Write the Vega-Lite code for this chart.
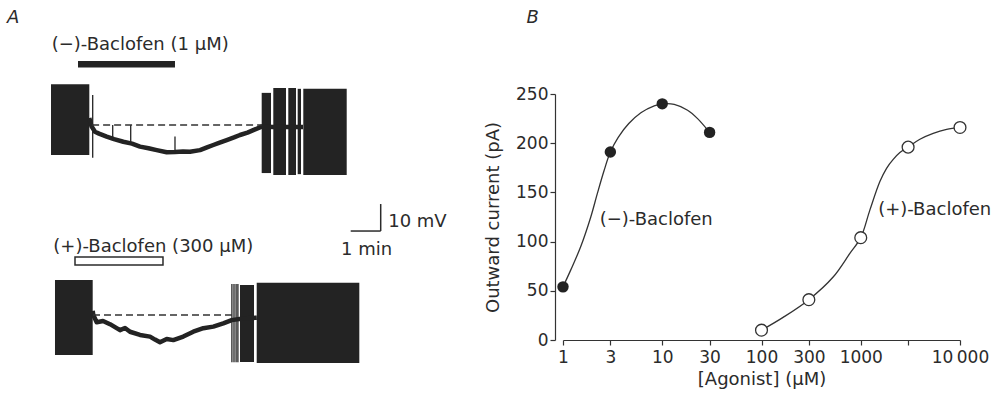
{
  "$schema": "https://vega.github.io/schema/vega-lite/v6.json",
  "width": 397,
  "height": 246,
  "autosize": {"type": "none"},
  "padding": {"left": 563, "top": 94, "right": 35, "bottom": 58},
  "background": "white",
  "config": {
    "view": {"stroke": null},
    "font": "DejaVu Sans",
    "text": {"font": "DejaVu Sans", "color": "#2b2b2b"},
    "axis": {"labelFont": "DejaVu Sans", "titleFont": "DejaVu Sans", "grid": false}
  },
  "datasets": {
    "dose": [
      {"agonist": "(−)-Baclofen", "conc": 1, "current": 54},
      {"agonist": "(−)-Baclofen", "conc": 3, "current": 191},
      {"agonist": "(−)-Baclofen", "conc": 10, "current": 240},
      {"agonist": "(−)-Baclofen", "conc": 30, "current": 211},
      {"agonist": "(+)-Baclofen", "conc": 100, "current": 10},
      {"agonist": "(+)-Baclofen", "conc": 300, "current": 41},
      {"agonist": "(+)-Baclofen", "conc": 1000, "current": 104},
      {"agonist": "(+)-Baclofen", "conc": 3000, "current": 196},
      {"agonist": "(+)-Baclofen", "conc": 10000, "current": 216}
    ],
    "fit": [
      {"agonist": "(−)-Baclofen", "conc": 1, "current": 54},
      {"agonist": "(−)-Baclofen", "conc": 1.195, "current": 71},
      {"agonist": "(−)-Baclofen", "conc": 1.51, "current": 95},
      {"agonist": "(−)-Baclofen", "conc": 1.905, "current": 125},
      {"agonist": "(−)-Baclofen", "conc": 2.22, "current": 149},
      {"agonist": "(−)-Baclofen", "conc": 2.59, "current": 172},
      {"agonist": "(−)-Baclofen", "conc": 3, "current": 191},
      {"agonist": "(−)-Baclofen", "conc": 3.6, "current": 206},
      {"agonist": "(−)-Baclofen", "conc": 4.6, "current": 220},
      {"agonist": "(−)-Baclofen", "conc": 6.09, "current": 231},
      {"agonist": "(−)-Baclofen", "conc": 8.3, "current": 238},
      {"agonist": "(−)-Baclofen", "conc": 10, "current": 240},
      {"agonist": "(−)-Baclofen", "conc": 13.2, "current": 239.5},
      {"agonist": "(−)-Baclofen", "conc": 18, "current": 233.5},
      {"agonist": "(−)-Baclofen", "conc": 22.7, "current": 225},
      {"agonist": "(−)-Baclofen", "conc": 30, "current": 211},
      {"agonist": "(+)-Baclofen", "conc": 100, "current": 10},
      {"agonist": "(+)-Baclofen", "conc": 165, "current": 23},
      {"agonist": "(+)-Baclofen", "conc": 300, "current": 41},
      {"agonist": "(+)-Baclofen", "conc": 527, "current": 64},
      {"agonist": "(+)-Baclofen", "conc": 777, "current": 88},
      {"agonist": "(+)-Baclofen", "conc": 1000, "current": 104},
      {"agonist": "(+)-Baclofen", "conc": 1235, "current": 132},
      {"agonist": "(+)-Baclofen", "conc": 1559, "current": 161},
      {"agonist": "(+)-Baclofen", "conc": 1820, "current": 174.5},
      {"agonist": "(+)-Baclofen", "conc": 2124, "current": 183.5},
      {"agonist": "(+)-Baclofen", "conc": 2478, "current": 190.5},
      {"agonist": "(+)-Baclofen", "conc": 3000, "current": 196},
      {"agonist": "(+)-Baclofen", "conc": 3944, "current": 204},
      {"agonist": "(+)-Baclofen", "conc": 5370, "current": 210},
      {"agonist": "(+)-Baclofen", "conc": 7330, "current": 214},
      {"agonist": "(+)-Baclofen", "conc": 10000, "current": 216}
    ],
    "bText": [
      {"label": "(−)-Baclofen", "conc": 2.34, "current": 122},
      {"label": "(+)-Baclofen", "conc": 1497, "current": 132}
    ],
    "bPanel": [{"label": "B", "conc": 0.43, "current": 327}],
    "a1Bursts": [
      {"t0": 0, "t1": 1.277, "vTop": -44.9, "vBot": -71.1},
      {"t0": 7.023, "t1": 7.333, "vTop": -48.1, "vBot": -77.8},
      {"t0": 7.41, "t1": 7.833, "vTop": -46.3, "vBot": -78.5},
      {"t0": 7.91, "t1": 8.167, "vTop": -46.3, "vBot": -78.5},
      {"t0": 8.223, "t1": 8.333, "vTop": -46.6, "vBot": -78.2},
      {"t0": 8.41, "t1": 9.857, "vTop": -46.6, "vBot": -78.5}
    ],
    "a1Trace": [
      {"t": 1.277, "v": -57.4},
      {"t": 1.35, "v": -60.5},
      {"t": 1.467, "v": -62.5},
      {"t": 1.6, "v": -63.2},
      {"t": 1.857, "v": -64.3},
      {"t": 2.1, "v": -65.2},
      {"t": 2.41, "v": -66.2},
      {"t": 2.7, "v": -66.9},
      {"t": 2.967, "v": -68.0},
      {"t": 3.25, "v": -68.6},
      {"t": 3.523, "v": -69.3},
      {"t": 3.857, "v": -70.1},
      {"t": 4.133, "v": -70.0},
      {"t": 4.4, "v": -69.8},
      {"t": 4.633, "v": -69.9},
      {"t": 4.967, "v": -69.3},
      {"t": 5.2, "v": -68.3},
      {"t": 5.41, "v": -67.4},
      {"t": 5.6, "v": -66.6},
      {"t": 5.857, "v": -65.6},
      {"t": 6.1, "v": -64.6},
      {"t": 6.3, "v": -63.7},
      {"t": 6.55, "v": -62.8},
      {"t": 6.743, "v": -61.9},
      {"t": 7.023, "v": -60.6},
      {"t": 7.4, "v": -60.7},
      {"t": 7.9, "v": -60.7},
      {"t": 8.4, "v": -60.7}
    ],
    "a1Spikes": [
      {"t": 1.39, "vTop": -48.9, "vBot": -72.1},
      {"t": 2.057, "vTop": -60, "vBot": -64.8},
      {"t": 2.657, "vTop": -60, "vBot": -66.5},
      {"t": 4.133, "vTop": -64.3, "vBot": -70.5}
    ],
    "a1Drug": [{"t0": 0.9, "t1": 4.133, "vTop": -36.3, "vBot": -38.7}],
    "a1Base": [{"t0": 1.37, "t1": 7.03, "v": -60}],
    "a1Text": [{"label": "(−)-Baclofen (1 μM)", "t": 0.023, "v": -30.4}],
    "a1Panel": [{"label": "A", "t": -1.467, "v": -20.4}],
    "a2Bursts": [
      {"t0": 0.133, "t1": 1.39, "vTop": -47.0, "vBot": -74.8},
      {"t0": 6.3, "t1": 6.767, "vTop": -48.9, "vBot": -77.4},
      {"t0": 6.857, "t1": 10.277, "vTop": -48.1, "vBot": -77.8}
    ],
    "a2Spikes": [
      {"t": 6.03, "vTop": -48.5, "vBot": -77.5},
      {"t": 6.1, "vTop": -48.5, "vBot": -77.5},
      {"t": 6.17, "vTop": -48.5, "vBot": -77.5},
      {"t": 6.23, "vTop": -48.5, "vBot": -77.5}
    ],
    "a2Trace": [
      {"t": 1.39, "v": -58.5},
      {"t": 1.41, "v": -60},
      {"t": 1.523, "v": -62.7},
      {"t": 1.733, "v": -62.2},
      {"t": 1.967, "v": -63.4},
      {"t": 2.3, "v": -65.6},
      {"t": 2.467, "v": -64.8},
      {"t": 2.633, "v": -66.2},
      {"t": 2.967, "v": -67.4},
      {"t": 3.3, "v": -68.0},
      {"t": 3.467, "v": -69.1},
      {"t": 3.633, "v": -70.1},
      {"t": 3.857, "v": -68.9},
      {"t": 4.077, "v": -69.3},
      {"t": 4.41, "v": -68.0},
      {"t": 4.743, "v": -66.2},
      {"t": 5.077, "v": -64.9},
      {"t": 5.41, "v": -64.3},
      {"t": 5.743, "v": -63.1},
      {"t": 6.023, "v": -61.9},
      {"t": 6.4, "v": -61.3},
      {"t": 6.86, "v": -61.0}
    ],
    "a2Drug": [{"t0": 0.8, "t1": 3.733, "vTop": -38.5, "vBot": -41.5}],
    "a2Base": [{"t0": 1.4, "t1": 6.07, "v": -60}],
    "a2Scale": [
      {"t0": 9.99, "t1": 10.99, "v0": -28.9, "v1": -28.9},
      {"t0": 10.99, "t1": 10.99, "v0": -28.9, "v1": -18.9}
    ],
    "a2TextLeft": [
      {"label": "(+)-Baclofen (300 μM)", "t": 0.077, "v": -34.8},
      {"label": "10 mV", "t": 11.24, "v": -25.4}
    ],
    "a2TextCenter": [{"label": "1 min", "t": 10.52, "v": -35.9}]
  },
  "layer": [
    {
      "layer": [
        {
          "data": {"name": "fit"},
          "mark": {"type": "line", "interpolate": "catmull-rom", "color": "#333333", "strokeWidth": 1.3},
          "encoding": {
            "x": {
              "field": "conc", "type": "quantitative",
              "scale": {"type": "log", "domain": [1, 10000], "nice": false},
              "axis": {
                "orient": "bottom",
                "title": "[Agonist] (μM)",
                "values": [1, 3, 10, 30, 100, 300, 1000, 3000, 10000],
                "labelExpr": "datum.value == 3000 ? '' : (datum.value == 10000 ? '10\u2009000' : format(datum.value, 'd'))",
                "labelFontSize": 17, "titleFontSize": 18, "titleFontWeight": "normal",
                "labelColor": "#2b2b2b", "titleColor": "#2b2b2b",
                "domainColor": "#333333", "tickColor": "#333333",
                "domainWidth": 1.2, "tickWidth": 1.2, "tickSize": 5,
                "labelPadding": 4, "titlePadding": 5,
                "labelFlush": false, "labelOverlap": false
              }
            },
            "y": {
              "field": "current", "type": "quantitative",
              "scale": {"domain": [0, 250], "nice": false},
              "axis": {
                "orient": "left",
                "offset": 8,
                "title": "Outward current (pA)",
                "values": [0, 50, 100, 150, 200, 250],
                "labelFontSize": 17, "titleFontSize": 18, "titleFontWeight": "normal",
                "labelColor": "#2b2b2b", "titleColor": "#2b2b2b",
                "domainColor": "#333333", "tickColor": "#333333",
                "domainWidth": 1.2, "tickWidth": 1.2, "tickSize": 5,
                "labelPadding": 2, "titlePadding": 13
              }
            },
            "detail": {"field": "agonist"}
          }
        },
        {
          "data": {"name": "dose"},
          "transform": [{"filter": "datum.agonist == '(−)-Baclofen'"}],
          "mark": {"type": "point", "shape": "circle", "filled": true, "color": "#222222", "size": 130, "opacity": 1},
          "encoding": {
            "x": {"field": "conc", "type": "quantitative"},
            "y": {"field": "current", "type": "quantitative"}
          }
        },
        {
          "data": {"name": "dose"},
          "transform": [{"filter": "datum.agonist == '(+)-Baclofen'"}],
          "mark": {"type": "point", "shape": "circle", "filled": false, "fill": "white", "stroke": "#333333", "strokeWidth": 1.3, "size": 140, "opacity": 1, "fillOpacity": 1},
          "encoding": {
            "x": {"field": "conc", "type": "quantitative"},
            "y": {"field": "current", "type": "quantitative"}
          }
        },
        {
          "data": {"name": "bText"},
          "mark": {"type": "text", "align": "left", "baseline": "middle", "fontSize": 18},
          "encoding": {
            "x": {"field": "conc", "type": "quantitative"},
            "y": {"field": "current", "type": "quantitative"},
            "text": {"field": "label"}
          }
        },
        {
          "data": {"name": "bPanel"},
          "mark": {"type": "text", "align": "left", "baseline": "middle", "fontSize": 18, "fontStyle": "italic"},
          "encoding": {
            "x": {"field": "conc", "type": "quantitative"},
            "y": {"field": "current", "type": "quantitative"},
            "text": {"field": "label"}
          }
        }
      ]
    },
    {
      "layer": [
        {
          "data": {"name": "a1Bursts"},
          "mark": {"type": "rect", "color": "#232323"},
          "encoding": {
            "x": {"field": "t0", "type": "quantitative", "scale": {"domain": [0, 10], "range": [-512, -212], "nice": false, "zero": false}, "axis": null},
            "x2": {"field": "t1"},
            "y": {"field": "vTop", "type": "quantitative", "scale": {"domain": [-90, -30], "range": [112, -50], "nice": false, "zero": false}, "axis": null},
            "y2": {"field": "vBot"}
          }
        },
        {
          "data": {"name": "a1Trace"},
          "mark": {"type": "line", "color": "#232323", "strokeWidth": 4.5, "strokeJoin": "round"},
          "encoding": {
            "x": {"field": "t", "type": "quantitative"},
            "y": {"field": "v", "type": "quantitative"}
          }
        },
        {
          "data": {"name": "a1Spikes"},
          "mark": {"type": "rule", "color": "#232323", "strokeWidth": 1.3},
          "encoding": {
            "x": {"field": "t", "type": "quantitative"},
            "y": {"field": "vTop", "type": "quantitative"},
            "y2": {"field": "vBot"}
          }
        },
        {
          "data": {"name": "a1Base"},
          "mark": {"type": "rule", "color": "#333333", "strokeWidth": 1.3, "strokeDash": [7, 4]},
          "encoding": {
            "x": {"field": "t0", "type": "quantitative"},
            "x2": {"field": "t1"},
            "y": {"field": "v", "type": "quantitative"}
          }
        },
        {
          "data": {"name": "a1Drug"},
          "mark": {"type": "rect", "color": "#232323"},
          "encoding": {
            "x": {"field": "t0", "type": "quantitative"},
            "x2": {"field": "t1"},
            "y": {"field": "vTop", "type": "quantitative"},
            "y2": {"field": "vBot"}
          }
        },
        {
          "data": {"name": "a1Text"},
          "mark": {"type": "text", "align": "left", "baseline": "middle", "fontSize": 18},
          "encoding": {
            "x": {"field": "t", "type": "quantitative"},
            "y": {"field": "v", "type": "quantitative"},
            "text": {"field": "label"}
          }
        },
        {
          "data": {"name": "a1Panel"},
          "mark": {"type": "text", "align": "left", "baseline": "middle", "fontSize": 18, "fontStyle": "italic"},
          "encoding": {
            "x": {"field": "t", "type": "quantitative"},
            "y": {"field": "v", "type": "quantitative"},
            "text": {"field": "label"}
          }
        }
      ]
    },
    {
      "layer": [
        {
          "data": {"name": "a2Bursts"},
          "mark": {"type": "rect", "color": "#232323"},
          "encoding": {
            "x": {"field": "t0", "type": "quantitative", "scale": {"domain": [0, 10], "range": [-512, -212], "nice": false, "zero": false}, "axis": null},
            "x2": {"field": "t1"},
            "y": {"field": "vTop", "type": "quantitative", "scale": {"domain": [-90, -30], "range": [302, 140], "nice": false, "zero": false}, "axis": null},
            "y2": {"field": "vBot"}
          }
        },
        {
          "data": {"name": "a2Spikes"},
          "mark": {"type": "rule", "color": "#232323", "strokeWidth": 1.3},
          "encoding": {
            "x": {"field": "t", "type": "quantitative"},
            "y": {"field": "vTop", "type": "quantitative"},
            "y2": {"field": "vBot"}
          }
        },
        {
          "data": {"name": "a2Trace"},
          "mark": {"type": "line", "color": "#232323", "strokeWidth": 4.5, "strokeJoin": "round"},
          "encoding": {
            "x": {"field": "t", "type": "quantitative"},
            "y": {"field": "v", "type": "quantitative"}
          }
        },
        {
          "data": {"name": "a2Base"},
          "mark": {"type": "rule", "color": "#333333", "strokeWidth": 1.3, "strokeDash": [7, 4]},
          "encoding": {
            "x": {"field": "t0", "type": "quantitative"},
            "x2": {"field": "t1"},
            "y": {"field": "v", "type": "quantitative"}
          }
        },
        {
          "data": {"name": "a2Drug"},
          "mark": {"type": "rect", "fill": "white", "stroke": "#2b2b2b", "strokeWidth": 1.5},
          "encoding": {
            "x": {"field": "t0", "type": "quantitative"},
            "x2": {"field": "t1"},
            "y": {"field": "vTop", "type": "quantitative"},
            "y2": {"field": "vBot"}
          }
        },
        {
          "data": {"name": "a2Scale"},
          "mark": {"type": "rule", "color": "#2b2b2b", "strokeWidth": 1.5},
          "encoding": {
            "x": {"field": "t0", "type": "quantitative"},
            "x2": {"field": "t1"},
            "y": {"field": "v0", "type": "quantitative"},
            "y2": {"field": "v1"}
          }
        },
        {
          "data": {"name": "a2TextLeft"},
          "mark": {"type": "text", "align": "left", "baseline": "middle", "fontSize": 18},
          "encoding": {
            "x": {"field": "t", "type": "quantitative"},
            "y": {"field": "v", "type": "quantitative"},
            "text": {"field": "label"}
          }
        },
        {
          "data": {"name": "a2TextCenter"},
          "mark": {"type": "text", "align": "center", "baseline": "middle", "fontSize": 18},
          "encoding": {
            "x": {"field": "t", "type": "quantitative"},
            "y": {"field": "v", "type": "quantitative"},
            "text": {"field": "label"}
          }
        }
      ]
    }
  ],
  "resolve": {"scale": {"x": "independent", "y": "independent"}}
}
